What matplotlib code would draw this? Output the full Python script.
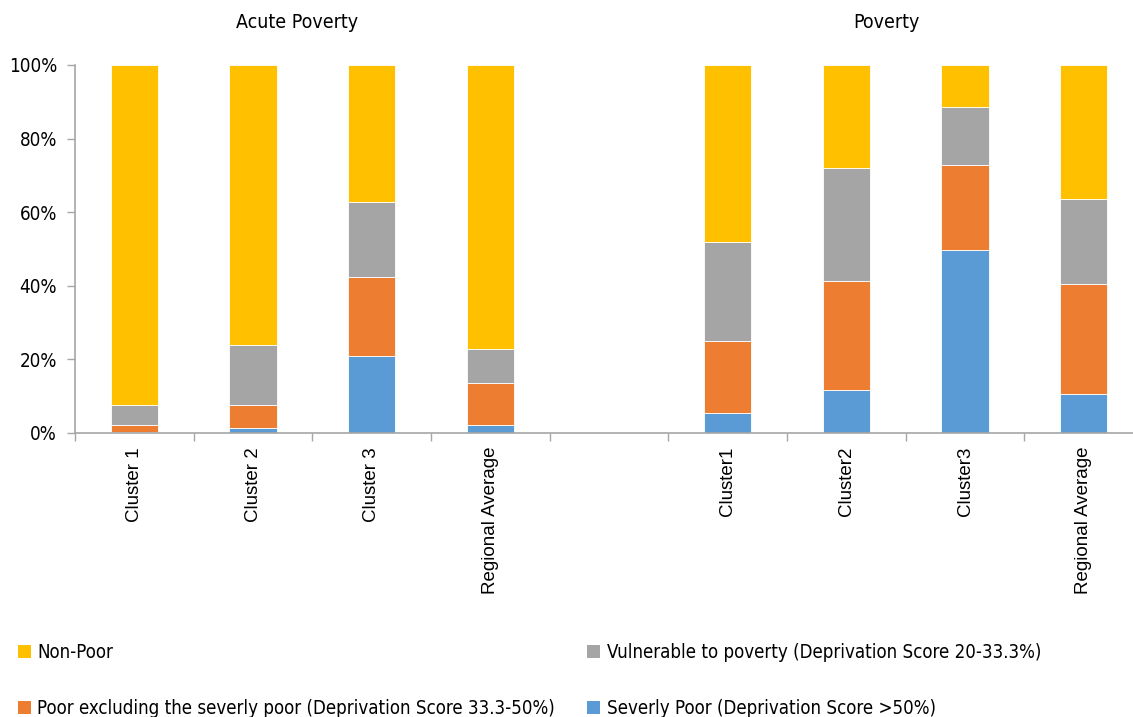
import matplotlib
matplotlib.use("Agg")
import matplotlib.pyplot as plt
import numpy as np
from matplotlib.patches import Patch

# category labels (blank slot separates the two panels)
categories = ["Cluster 1", "Cluster 2", "Cluster 3", "Regional Average", "",
              "Cluster1", "Cluster2", "Cluster3", "Regional Average"]

# shares in percent, bottom to top
severe = [0.4, 1.4, 21.0, 2.1, 0, 5.4, 11.7, 49.8, 10.7]
poor_excl = [1.7, 6.3, 21.5, 11.4, 0, 19.5, 29.6, 22.9, 29.9]
vulnerable = [5.6, 16.1, 20.4, 9.2, 0, 27.1, 30.8, 16.0, 23.1]
non_poor = [92.3, 76.2, 37.1, 77.3, 0, 48.0, 27.9, 11.3, 36.3]

series = [
    ("Severly Poor (Deprivation Score >50%)", severe, "#5B9BD5"),
    ("Poor excluding the severly poor (Deprivation Score 33.3-50%)", poor_excl, "#ED7D31"),
    ("Vulnerable to poverty (Deprivation Score 20-33.3%)", vulnerable, "#A5A5A5"),
    ("Non-Poor", non_poor, "#FFC000"),
]

narrow = dict(family="DejaVu Sans", stretch="condensed")
W, H = 1133, 717
fig = plt.figure(figsize=(W / 100, H / 100), dpi=100)
ax = fig.add_axes([75 / W, (H - 433) / H, 1068 / W, 368 / H])

x = np.arange(len(categories))
bottom = np.zeros(len(categories))
for label, vals, color in series:
    vals = np.array(vals) / 100.0
    mask = vals > 0
    ax.bar(x[mask], vals[mask], width=0.4, bottom=bottom[mask], color=color,
           edgecolor="white", linewidth=0.6)
    bottom += vals

ax.set_xlim(-0.5, len(categories) - 0.5)
ax.set_ylim(0, 1)
ax.set_yticks(np.arange(0, 1.01, 0.2))
ax.set_yticklabels([f"{int(v * 100)}%" for v in np.arange(0, 1.01, 0.2)],
                   fontsize=13.5, **narrow)

ax.set_xticks(x)
ax.set_xticklabels(categories, rotation=90, family=["Liberation Sans", "DejaVu Sans"],
                   fontsize=13.5, va="top")
ax.set_xticks(np.arange(-0.5, len(categories)), minor=True)
ax.tick_params(axis="x", which="major", length=0, pad=10)
ax.tick_params(axis="x", which="minor", length=6, color="#a6a6a6", width=1)
ax.tick_params(axis="y", length=6, color="#a6a6a6", width=1, pad=7)

for side in ["top", "right"]:
    ax.spines[side].set_visible(False)
for side in ["left", "bottom"]:
    ax.spines[side].set_color("#a6a6a6")
    ax.spines[side].set_linewidth(1.2)

fig.text(297 / W, 1 - 22 / H, "Acute Poverty", ha="center", va="center",
         fontsize=14, **narrow)
fig.text(886 / W, 1 - 22 / H, "Poverty", ha="center", va="center",
         fontsize=14, **narrow)

# legend: column-wise fill, so order handles to read row by row
order = [3, 1, 2, 0]
handles = [Patch(facecolor=series[i][2], edgecolor="none") for i in order]
labels = [series[i][0] for i in order]
fig.legend(handles, labels, ncol=2, loc="upper left",
           bbox_to_anchor=(18 / W, 1 - 643 / H), frameon=False,
           prop=dict(size=13.4, **narrow), handlelength=0.68, handleheight=0.68,
           handletextpad=0.35, labelspacing=2.0, columnspacing=1.75,
           borderpad=0, borderaxespad=0)

fig.savefig("out.png", dpi=100)
